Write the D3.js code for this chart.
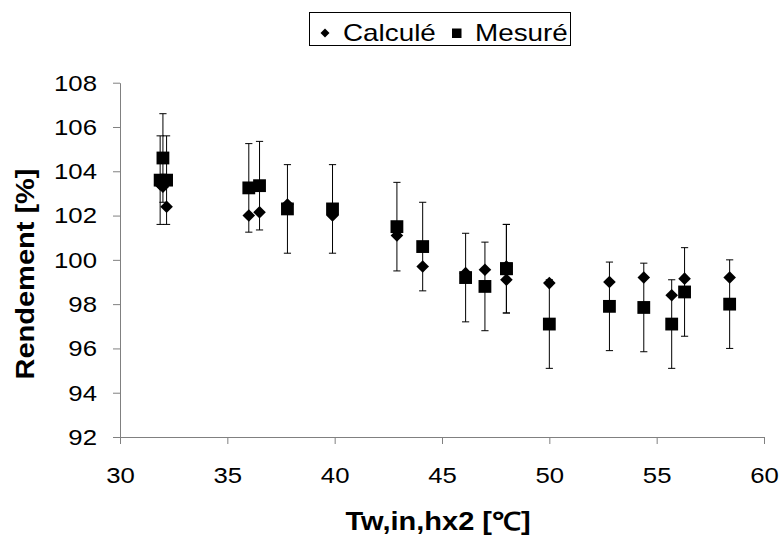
<!DOCTYPE html>
<html>
<head>
<meta charset="utf-8">
<script src="https://cdn.jsdelivr.net/npm/d3@7"></script>
<style>
  body { margin: 0; background: #fff; }
  text { font-family: "Liberation Sans", Arial, sans-serif; }
</style>
</head>
<body>
<div id="chart"></div>
<script>
'use strict'

// Values
const tw = [31.87, 32.0, 32.17, 36.0, 36.5, 37.8, 39.9, 42.9, 44.1, 46.1, 47.0, 48.0, 48.0, 50.0, 52.8, 54.4, 55.7, 56.3, 58.4];
const calcule = [103.4, 103.3, 102.4, 102.0, 102.15, 102.5, 102.0, 101.1, 99.7, 99.4, 99.55, 99.7, 99.1, 98.95, 99.0, 99.2, 98.4, 99.15, 99.2];
const mesure = [103.6, 104.6, 103.6, 103.25, 103.35, 102.3, 102.3, 101.5, 100.6, 99.2, 98.8, 99.6, 99.6, 97.1, 97.9, 97.85, 97.1, 98.55, 98.0];
const erreur = [2, 2, 2, 2, 2, 2, 2, 2, 2, 2, 2, 2, 2, 2, 2, 2, 2, 2, 2];
const xTicks = [30, 35, 40, 45, 50, 55, 60];
const yTicks = [92, 94, 96, 98, 100, 102, 104, 106, 108];
const seriesNames = ["Calculé", "Mesuré"];

const width = 783;
const height = 540;
const margin = { top: 82.7, right: 19, bottom: 103, left: 120 };
const stretch = 1.12; // the source text is a bit wider than Arial

const svg = d3.select("#chart")
    .append("svg")
    .attr("width", width)
    .attr("height", height);

const x = d3.scaleLinear()
    .domain([30, 60])
    .range([margin.left, width - margin.right]);

const y = d3.scaleLinear()
    .domain([92, 108])
    .range([height - margin.bottom, margin.top]);

// X axis
const gx = svg.append("g")
    .attr("transform", `translate(0,${y(92)})`)
    .call(d3.axisBottom(x).tickValues(xTicks).tickSize(7).tickPadding(23).tickSizeOuter(0));

// Y axis
const gy = svg.append("g")
    .attr("transform", `translate(${x(30)},0)`)
    .call(d3.axisLeft(y).tickValues(yTicks).tickSize(7).tickPadding(16).tickSizeOuter(0));

[gx, gy].forEach(g => {
    g.select(".domain").attr("stroke", "#808080").attr("stroke-width", 1);
    g.selectAll(".tick line").attr("stroke", "#808080");
    g.selectAll(".tick text")
        .attr("fill", "#000")
        .style("font-size", "23px")
        .style("font-family", "'Liberation Sans', Arial, sans-serif")
        .each(function () {
            const t = d3.select(this);
            const tx = +t.attr("x") || 0;
            t.attr("x", 0).attr("transform", `translate(${tx},0) scale(${stretch},1)`);
        });
});

// Axis titles
svg.append("text")
    .attr("transform", `translate(${(x(30) + x(60)) / 2 - 4},530) scale(1.16,1)`)
    .attr("text-anchor", "middle")
    .style("font-size", "25px")
    .style("font-weight", "bold")
    .text("Tw,in,hx2 [\u2103]");

svg.append("text")
    .attr("transform", `translate(34,274) rotate(-90) scale(1.16,1)`)
    .attr("text-anchor", "middle")
    .style("font-size", "25px")
    .style("font-weight", "bold")
    .text("Rendement [%]");

// Error bars on the measured series
const pts = tw.map((t, i) => ({ t, c: calcule[i], m: mesure[i], e: erreur[i] }));
const cap = 3.6;

const eb = svg.append("g")
    .attr("stroke", "#000")
    .attr("stroke-width", 1)
    .selectAll("g")
    .data(pts)
    .enter().append("g");

eb.append("line")
    .attr("x1", d => x(d.t)).attr("x2", d => x(d.t))
    .attr("y1", d => y(d.m - d.e)).attr("y2", d => y(d.m + d.e));
eb.append("line")
    .attr("x1", d => x(d.t) - cap).attr("x2", d => x(d.t) + cap)
    .attr("y1", d => y(d.m + d.e)).attr("y2", d => y(d.m + d.e));
eb.append("line")
    .attr("x1", d => x(d.t) - cap).attr("x2", d => x(d.t) + cap)
    .attr("y1", d => y(d.m - d.e)).attr("y2", d => y(d.m - d.e));

// Markers
const diamond = r => `M0,${-r}L${r},0L0,${r}L${-r},0Z`;
const sq = 12.8;

svg.append("g")
    .selectAll("path")
    .data(pts)
    .enter().append("path")
    .attr("d", diamond(6.3))
    .attr("transform", d => `translate(${x(d.t)},${y(d.c)})`)
    .attr("fill", "#000");

svg.append("g")
    .selectAll("rect")
    .data(pts)
    .enter().append("rect")
    .attr("x", d => x(d.t) - sq / 2)
    .attr("y", d => y(d.m) - sq / 2)
    .attr("width", sq)
    .attr("height", sq)
    .attr("fill", "#000");

// Legend
const legend = svg.append("g");
legend.append("rect")
    .attr("x", 309.5).attr("y", 12.5)
    .attr("width", 261).attr("height", 33)
    .attr("fill", "#fff")
    .attr("stroke", "#000")
    .attr("stroke-width", 1);

legend.append("path")
    .attr("d", diamond(4.5))
    .attr("transform", "translate(325,33)")
    .attr("fill", "#000");
legend.append("rect")
    .attr("x", 452).attr("y", 28.5)
    .attr("width", 9.5).attr("height", 9.5)
    .attr("fill", "#000");

legend.selectAll(".lab")
    .data(seriesNames)
    .enter().append("text")
    .attr("class", "lab")
    .attr("transform", (d, i) => `translate(${i === 0 ? 343 : 475},40.5) scale(1.16,1)`)
    .style("font-size", "24px")
    .text(d => d);
</script>
</body>
</html>
